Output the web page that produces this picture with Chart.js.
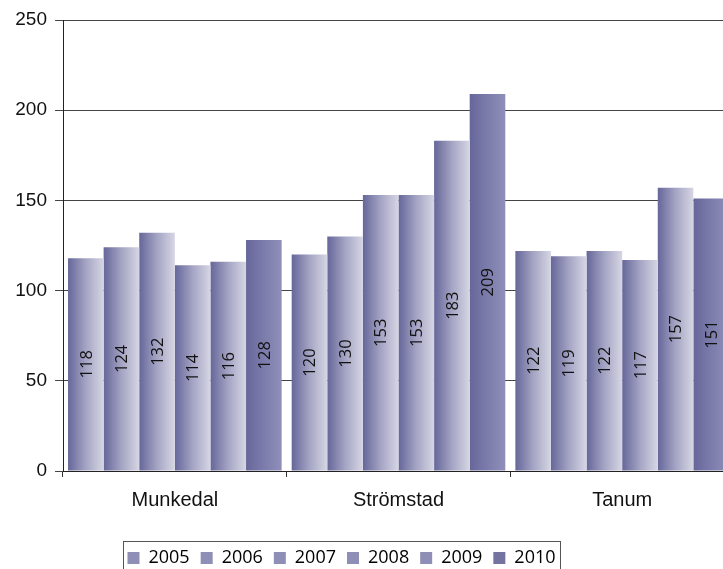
<!DOCTYPE html>
<html>
<head>
<meta charset="utf-8">
<script src="https://cdn.jsdelivr.net/npm/chart.js@4/dist/chart.umd.min.js"></script>
<style>
  html, body { margin: 0; padding: 0; background: #fff; overflow: hidden; }
  #wrap { width: 734px; height: 590px; }
</style>
</head>
<body>
<div id="wrap"><canvas id="myChart"></canvas></div>
<script>
const categories = ['Munkedal', 'Strömstad', 'Tanum'];
const years = ['2005', '2006', '2007', '2008', '2009', '2010'];
const v2005 = [118, 120, 122];
const v2006 = [124, 130, 119];
const v2007 = [132, 153, 122];
const v2008 = [114, 153, 117];
const v2009 = [116, 183, 157];
const v2010 = [128, 209, 151];
const yTicks = [0, 50, 100, 150, 200, 250];

const CAT_PCT = 0.955;
const light = ['#66669a', '#a4a4c4', '#d6d6e4', '#8e8eb6'];
const dark = ['#66669a', '#7c7cac', '#8f8fb9', '#74749f'];

function barFill(stops) {
    return function (ctx) {
        if (ctx.type !== 'data') return stops[3];
        const chart = ctx.chart;
        const area = chart.chartArea;
        if (!area) return stops[3];
        const xs = chart.scales.x;
        const cw = (area.right - area.left) / categories.length;
        const gw = cw * CAT_PCT;
        const bw = gw / chart.data.datasets.length;
        const left = xs.getPixelForValue(ctx.dataIndex) - gw / 2 + ctx.datasetIndex * bw;
        if (!isFinite(left)) return stops[3];
        const g = chart.ctx.createLinearGradient(left, 0, left + bw, 0);
        g.addColorStop(0, stops[0]);
        g.addColorStop(0.5, stops[1]);
        g.addColorStop(1, stops[2]);
        return g;
    };
}

const series = [v2005, v2006, v2007, v2008, v2009, v2010];
const datasets = series.map((vals, i) => ({
    label: years[i],
    data: vals,
    backgroundColor: barFill(i === 5 ? dark : light),
    borderWidth: 0,
    categoryPercentage: CAT_PCT,
    barPercentage: 1
}));

// rotated value labels in the middle of each bar
const valueLabels = {
    id: 'valueLabels',
    afterDatasetsDraw(chart) {
        const c = chart.ctx;
        c.save();
        c.font = '16.5px "Open Sans"';
        c.fillStyle = '#111';
        c.textAlign = 'center';
        c.textBaseline = 'middle';
        chart.data.datasets.forEach((ds, di) => {
            chart.getDatasetMeta(di).data.forEach((el, i) => {
                c.save();
                c.translate(el.x, (el.y + el.base) / 2);
                c.rotate(-Math.PI / 2);
                c.fillText(String(ds.data[i]), 0, 1);
                c.restore();
            });
        });
        c.restore();
    }
};

// move the legend into its box and draw the frame
const legendBox = {
    id: 'legendBox',
    afterLayout(chart) {
        const lg = chart.legend;
        lg.left = 103;
        lg.right = 580;
        lg.width = 477;
        lg.top = 538;
        lg.bottom = 580;
    },
    afterDraw(chart) {
        const c = chart.ctx;
        c.save();
        c.strokeStyle = '#555';
        c.lineWidth = 1;
        c.strokeRect(123.5, 541.5, 437, 40);
        c.restore();
    }
};

new Chart(document.getElementById('myChart'), {
    type: 'bar',
    data: { labels: categories, datasets: datasets },
    options: {
        responsive: true,
        maintainAspectRatio: false,
        animation: false,
        events: [],
        layout: { padding: { top: 20, left: 0, right: 0, bottom: 0 } },
        plugins: {
            tooltip: { enabled: false },
            legend: {
                position: 'bottom',
                labels: {
                    boxWidth: 12,
                    boxHeight: 12,
                    padding: 11,
                    color: '#1a1a1a',
                    font: { family: '"Open Sans"', size: 18 },
                    generateLabels(chart) {
                        return chart.data.datasets.map((ds, i) => {
                            const col = (i === 5 ? dark : light)[3];
                            return {
                                text: ds.label,
                                fillStyle: col,
                                strokeStyle: col,
                                lineWidth: 0,
                                hidden: false,
                                datasetIndex: i
                            };
                        });
                    }
                }
            }
        },
        scales: {
            x: {
                grid: {
                    offset: true,
                    drawOnChartArea: false,
                    color: '#333',
                    tickLength: 6
                },
                border: { color: '#222', width: 1 },
                ticks: {
                    color: '#111',
                    padding: 11,
                    font: { family: '"Liberation Sans"', size: 20 }
                },
                afterFit(scale) {
                    scale.height = 590 - 471 - scale.chart.legend.height;
                }
            },
            y: {
                min: 0,
                max: 250,
                afterBuildTicks(scale) {
                    scale.ticks = yTicks.map(v => ({ value: v }));
                },
                grid: { color: '#444', tickLength: 8 },
                border: { color: '#222', width: 1 },
                ticks: {
                    color: '#111',
                    padding: 8,
                    font: { family: '"Liberation Sans"', size: 19 }
                },
                afterFit(scale) {
                    scale.width = 63;
                }
            }
        }
    },
    plugins: [valueLabels, legendBox]
});
</script>
</body>
</html>
